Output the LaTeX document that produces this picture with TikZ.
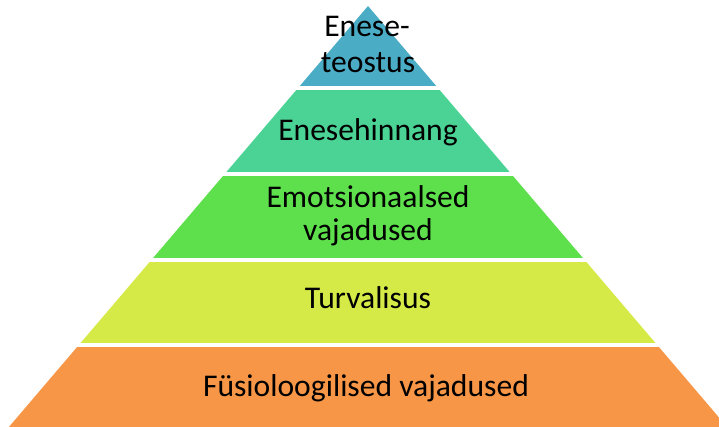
\documentclass[tikz,border=0pt]{standalone}
\usepackage{fontspec}
\setmainfont{Carlito}
\usetikzlibrary{positioning}

\definecolor{tipblue}{HTML}{4BACC6}
\definecolor{esteemgreen}{HTML}{4AD395}
\definecolor{lovegreen}{HTML}{5EE04C}
\definecolor{safeyellow}{HTML}{D5EA47}
\definecolor{baseorange}{HTML}{F79646}

\begin{document}
\begin{tikzpicture}[x=1pt, y=-1pt,
        lvl/.style={anchor=base, inner sep=0pt, font=\fontsize{31.6}{36}\selectfont, text=black}]
        \useasboundingbox (0,0) rectangle (719,427);

        % the pyramid is cut into bands
        \begin{scope}
        \clip (368,6) -- (727.1,427) -- (8.9,427) -- cycle;
        \fill[tipblue] (0,6) rectangle (719,86);
        \fill[esteemgreen] (0,90) rectangle (719,172);
        \fill[lovegreen] (0,176) rectangle (719,258);
        \fill[safeyellow] (0,262) rectangle (719,343);
        \fill[baseorange] (0,347) rectangle (719,427);
        \end{scope}

        \node[lvl] (TipA) at (367,37) {Enese-};
        \node[lvl] (TipB) at (368,73) {teostus};
        \node[lvl] (Esteem) at (368,141) {Enesehinnang};
        \node[lvl] (LoveA) at (368,208) {Emotsionaalsed};
        \node[lvl] (LoveB) at (368,241) {vajadused};
        \node[lvl] (Safety) at (368,308) {Turvalisus};
        \node[lvl] (Body) at (366,396) {Füsioloogilised vajadused};
    \end{tikzpicture}
\end{document}
